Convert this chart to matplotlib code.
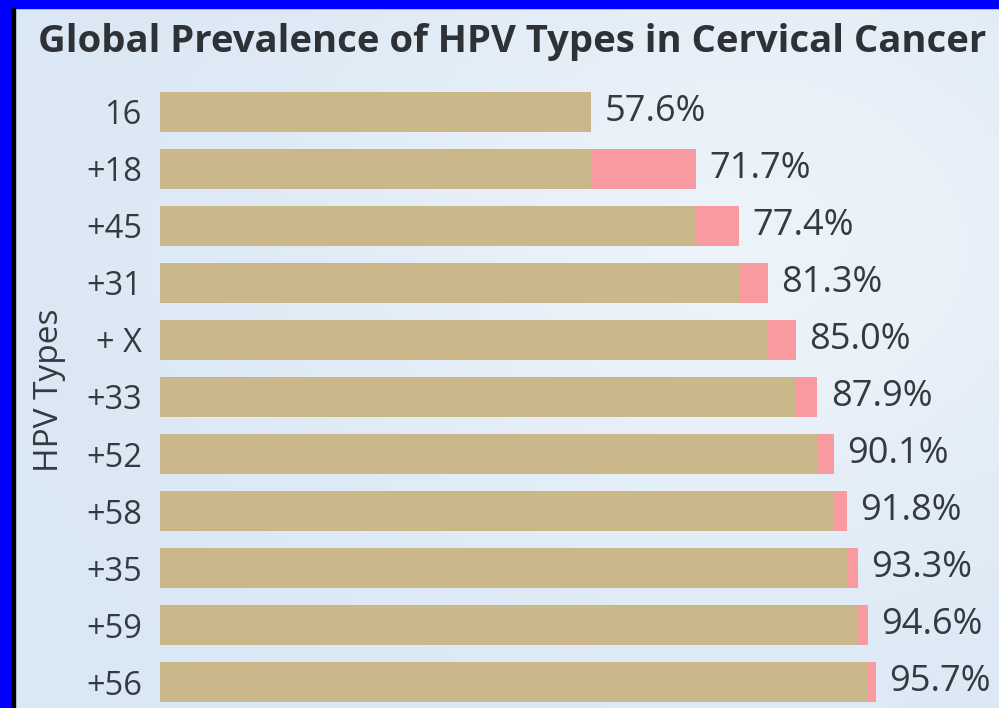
import matplotlib
matplotlib.use("Agg")
import matplotlib.pyplot as plt
import numpy as np
from matplotlib.patches import Rectangle

# cumulative prevalence when adding each HPV type
types = ["16", "+18", "+45", "+31", "+ X", "+33", "+52", "+58", "+35", "+59", "+56"]
cumulative = [57.6, 71.7, 77.4, 81.3, 85.0, 87.9, 90.1, 91.8, 93.3, 94.6, 95.7]

TAN = "#CAB88A"
PINK = "#F79BA0"
TEXT = "#333A40"

plt.rcParams["font.family"] = ["Open Sans", "DejaVu Sans"]

fig = plt.figure(figsize=(9.99, 7.08), dpi=100, facecolor="#DCE8F4")

# soft light-blue background
bg = fig.add_axes([0, 0, 1, 1], zorder=-10)
yy, xx = np.mgrid[0:1:200j, 0:1:300j]
glow = np.exp(-(((xx - 0.75) / 0.45) ** 2 + ((yy - 0.35) / 0.5) ** 2))
c0 = np.array([0.855, 0.906, 0.957])
c1 = np.array([0.925, 0.953, 0.980])
img = c0[None, None, :] + (c1 - c0)[None, None, :] * glow[..., None]
bg.imshow(img, extent=[0, 1, 0, 1], aspect="auto", origin="upper",
          interpolation="bilinear")
bg.set_xlim(0, 1)
bg.set_ylim(0, 1)
bg.axis("off")

# blue / black frame on top and left
fig.patches.append(Rectangle((0, 1 - 8 / 708), 1, 8 / 708, transform=fig.transFigure,
                             color="#0000FF", zorder=5))
fig.patches.append(Rectangle((0, 0), 12 / 999, 1, transform=fig.transFigure,
                             color="#0000FF", zorder=5))
fig.patches.append(Rectangle((12 / 999, 0), 3 / 999, 1 - 8 / 708, transform=fig.transFigure,
                             color="#000000", zorder=5))

ax = fig.add_axes([160 / 999, 0, 748 / 999, 625 / 708])
ax.patch.set_alpha(0)

y = np.arange(len(types))
tan_part = [cumulative[0]] + cumulative[:-1]
pink_part = [0.0] + [c - p for c, p in zip(cumulative[1:], cumulative[:-1])]

ax.barh(y, tan_part, height=0.7, color=TAN)
ax.barh(y, pink_part, left=tan_part, height=0.7, color=PINK)

for yi, c in zip(y, cumulative):
    ax.text(c + 1.8, yi, f"{c:.1f}%", va="center", ha="left", fontsize=26,
            color=TEXT, clip_on=False)

ax.set_xlim(0, 100)
ax.set_ylim(10.45, -0.5)
ax.set_yticks(y)
ax.set_yticklabels(types, fontsize=23.5, color=TEXT)
ax.tick_params(axis="y", length=0, pad=13)
ax.set_xticks([])
for s in ax.spines.values():
    s.set_visible(False)

fig.text(49 / 999, 1 - 390 / 708, "HPV Types", rotation=90, ha="center", va="center",
         fontsize=24, color=TEXT)
fig.text(38 / 999, 1 - 42 / 708, "Global Prevalence of HPV Types in Cervical Cancer",
         ha="left", va="center", fontsize=27.5, fontweight="bold", color="#2E3236")

fig.savefig("out.png", dpi=100, facecolor=fig.get_facecolor())
